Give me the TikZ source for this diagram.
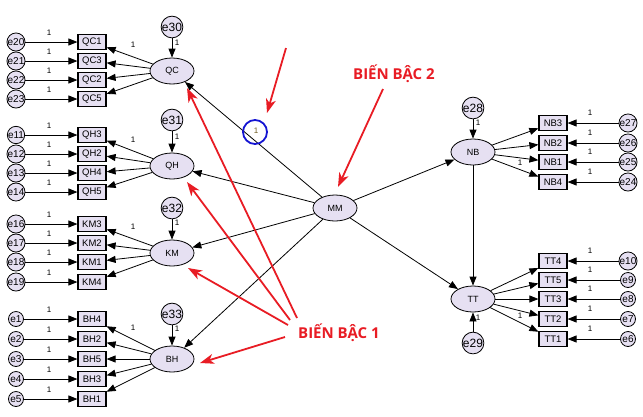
\documentclass[tikz,border=0pt]{standalone}
\usepackage{fontspec}
\setmainfont{Liberation Sans}
\newfontfamily\annfont{Open Sans}
\usetikzlibrary{shapes.geometric,arrows.meta}
\definecolor{lav}{RGB}{230,224,242}
\definecolor{annred}{RGB}{232,28,36}
\definecolor{ringblue}{RGB}{20,20,210}
\definecolor{gold}{RGB}{110,90,30}
\begin{document}
\begin{tikzpicture}[x=1pt,y=-1pt,
 lat/.style={ellipse,draw,line width=0.8pt,fill=lav,minimum width=44pt,minimum height=26pt,inner sep=0pt,font=\fontsize{9}{9}\selectfont},
 obs/.style={rectangle,draw,line width=1.2pt,fill=lav,minimum width=28pt,minimum height=15pt,inner sep=0pt,font=\fontsize{9.5}{9.5}\selectfont},
 errs/.style={circle,draw,line width=0.8pt,fill=lav,minimum size=15pt,inner sep=0pt,font=\fontsize{10}{10}\selectfont},
 errb/.style={circle,draw,line width=0.8pt,fill=lav,minimum size=21pt,inner sep=0pt,font=\fontsize{12}{12}\selectfont},
 arw/.style={-{Triangle[length=9pt,width=7pt]},line width=0.8pt},
 one/.style={font=\fontsize{8}{8}\selectfont,inner sep=0pt},
 redarw/.style={-{Stealth[length=14pt,width=10pt,inset=4pt]},line width=1.8pt,draw=annred,color=annred},
 anntext/.style={font=\annfont\bfseries\fontsize{15}{15}\selectfont,text=annred,anchor=west,inner sep=0pt}
]
\useasboundingbox (0,0) rectangle (643,416);

% ---------- QC ----------
\node[lat] (QC) at (172,71) {QC};
\node[errb] (e30) at (172,27) {e30};
\draw[arw] (e30) -- (QC);
\node[one] (l30) at (177,43) {1};
\foreach \b/\e/\y in {QC1/e20/42,QC3/e21/61,QC2/e22/80,QC5/e23/99}{
  \node[obs] (\b) at (92,\y) {\b};
  \node[errs] (\e) at (16,\y) {\e};
  \draw[arw] (\e) -- (\b);
  \draw[arw] (QC) -- (\b);
  \node[one] (l\e) at (49,\y-9) {1};
}
\node[one] (lQC) at (133,45) {1};

% ---------- QH ----------
\node[lat] (QH) at (172,166) {QH};
\node[errb] (e31) at (172,120) {e31};
\draw[arw] (e31) -- (QH);
\node[one] (l31) at (177,137) {1};
\foreach \b/\e/\y in {QH3/e11/135,QH2/e12/154,QH4/e13/173,QH5/e14/192}{
  \node[obs] (\b) at (92,\y) {\b};
  \node[errs] (\e) at (16,\y) {\e};
  \draw[arw] (\e) -- (\b);
  \draw[arw] (QH) -- (\b);
  \node[one] (l\e) at (49,\y-9) {1};
}
\node[one] (lQH) at (133,140) {1};

% ---------- KM ----------
\node[lat] (KM) at (172,253) {KM};
\node[errb] (e32) at (172,208) {e32};
\draw[arw] (e32) -- (KM);
\node[one] (l32) at (177,223) {1};
\foreach \b/\e/\y in {KM3/e16/224,KM2/e17/243,KM1/e18/262,KM4/e19/282}{
  \node[obs] (\b) at (92,\y) {\b};
  \node[errs] (\e) at (16,\y) {\e};
  \draw[arw] (\e) -- (\b);
  \draw[arw] (KM) -- (\b);
  \node[one] (l\e) at (49,\y-9) {1};
}
\node[one] (lKM) at (133,227) {1};

% ---------- BH ----------
\node[lat] (BH) at (172,359) {BH};
\node[errb] (e33) at (172,314) {e33};
\draw[arw] (e33) -- (BH);
\node[one] (l33) at (177,329) {1};
\foreach \b/\e/\y in {BH4/e1/319,BH2/e2/339,BH5/e3/359,BH3/e4/379,BH1/e5/399}{
  \node[obs] (\b) at (92,\y) {\b};
  \node[errs] (\e) at (16,\y) {\e};
  \draw[arw] (\e) -- (\b);
  \draw[arw] (BH) -- (\b);
  \node[one] (l\e) at (49,\y-9) {1};
}
\node[one] (lBH) at (133,328) {1};

% ---------- NB ----------
\node[lat] (NB) at (473,152) {NB};
\node[errb] (e28) at (473,108) {e28};
\draw[arw] (e28) -- (NB);
\node[one] (l28) at (478,123) {1};
\foreach \b/\e/\y in {NB3/e27/123,NB2/e26/143,NB1/e25/162,NB4/e24/182}{
  \node[obs] (\b) at (553,\y) {\b};
  \node[errs] (\e) at (628,\y) {\e};
  \draw[arw] (\e) -- (\b);
  \draw[arw] (NB) -- (\b);
  \node[one] (l\e) at (590,\y-10) {1};
}
\node[one] (lNB) at (520,163) {1};

% ---------- TT ----------
\node[lat] (TT) at (473,299) {TT};
\node[errb] (e29) at (473,343) {e29};
\draw[arw] (e29) -- (TT);
\node[one] (l29) at (478,318) {1};
\foreach \b/\e/\y in {TT4/e10/261,TT5/e9/280,TT3/e8/299,TT2/e7/319,TT1/e6/339}{
  \node[obs] (\b) at (553,\y) {\b};
  \node[errs] (\e) at (628,\y) {\e};
  \draw[arw] (\e) -- (\b);
  \draw[arw] (TT) -- (\b);
  \node[one] (l\e) at (590,\y-10) {1};
}
\node[one] (lTT) at (520,316) {1};

% ---------- MM ----------
\node[lat] (MM) at (335,208) {MM};
\draw[arw] (MM) -- (QC);
\draw[arw] (MM) -- (QH);
\draw[arw] (MM) -- (KM);
\draw[arw] (MM) -- (BH);
\draw[arw] (MM) -- (NB);
\draw[arw] (MM) -- (TT);
\draw[arw] (NB) -- (TT);

% ---------- annotations ----------
\node[circle,draw=ringblue,line width=1.8pt,minimum size=24pt,inner sep=0pt] (ring) at (255,132) {};
\node[one,text=gold] (lMM) at (256,131) {1};

\node[anntext] (t2) at (353,74) {BIẾN BẬC 2};
\node[anntext] (t1) at (298,333) {BIẾN BẬC 1};

\coordinate (a2s) at (383,89);
\coordinate (a2e) at (338,187);
\coordinate (acs) at (286,48);
\coordinate (ace) at (267,113);
\coordinate (s1) at (297,318);
\coordinate (e1t) at (187,88);
\coordinate (s2) at (290,320);
\coordinate (e2t) at (187,182);
\coordinate (s3) at (288,325);
\coordinate (e3t) at (188,268);
\coordinate (s4) at (285,337);
\coordinate (e4t) at (200,363);
\draw[redarw] (a2s) -- (a2e);
\draw[redarw] (acs) -- (ace);
\draw[redarw] (s1) -- (e1t);
\draw[redarw] (s2) -- (e2t);
\draw[redarw] (s3) -- (e3t);
\draw[redarw] (s4) -- (e4t);
\end{tikzpicture}
\end{document}
